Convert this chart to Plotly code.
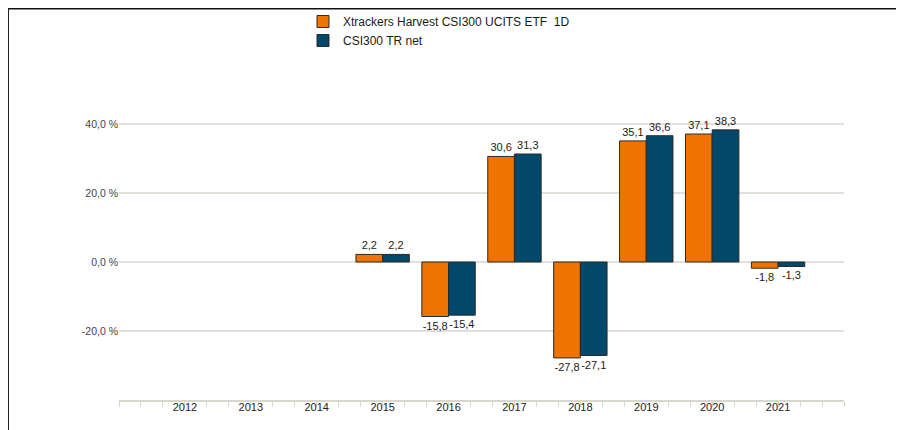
import plotly.graph_objects as go

years = [2012, 2013, 2014, 2015, 2016, 2017, 2018, 2019, 2020, 2021]
etf_values = [None, None, None, 2.2, -15.8, 30.6, -27.8, 35.1, 37.1, -1.8]
index_values = [None, None, None, 2.2, -15.4, 31.3, -27.1, 36.6, 38.3, -1.3]
series_names = ["Xtrackers Harvest CSI300 UCITS ETF  1D", "CSI300 TR net"]
y_tickvals = [-40, -20, 0, 20, 40, 60]
y_ticktext = ["", "-20,0 %", "0,0 %", "20,0 %", "40,0 %", ""]

def fmt(v):
    return "" if v is None else f"{v:.1f}".replace(".", ",")

colors = ["#F07300", "#02486A"]
FONT = "Liberation Sans, Arial, sans-serif"

W, H = 896, 422          # page offset 8px (body margin)
L, R, T, B = 111, 60, 47, 30
PW, PH = W - L - R, H - T - B   # 725 x 345

fig = go.Figure()
for name, vals, col in zip(series_names, [etf_values, index_values], colors):
    fig.add_trace(go.Bar(
        x=years, y=vals, name=name,
        marker=dict(color=col, line=dict(color="#2a2a2a", width=1)),
        text=[fmt(v) for v in vals], textposition="outside",
        textfont=dict(family=FONT, size=11, color="#1a1a1a"),
        cliponaxis=False,
    ))

fig.update_layout(
    width=W, height=H,
    margin=dict(l=L, r=R, t=T, b=B, autoexpand=False),
    paper_bgcolor="white", plot_bgcolor="white",
    barmode="group", bargap=0.19, bargroupgap=0,
    font=dict(family=FONT, size=11, color="#333333"),
    showlegend=True,
    legend=dict(
        xref="paper", yref="paper", x=(295 - L) / PW, y=(PH + T + 1) / PH,
        xanchor="left", yanchor="top", bgcolor="rgba(0,0,0,0)",
        font=dict(family=FONT, size=12, color="#1a1a1a"),
        tracegroupgap=0,
    ),
    uniformtext=dict(minsize=11, mode="show"),
)
fig.update_xaxes(
    range=[2011, 2022], tickvals=years, ticktext=[str(y) for y in years],
    tickangle=0,
    showgrid=False, showline=True, linecolor="#D9D6CC", linewidth=2,
    ticks="outside", ticklen=0, tickcolor="#D9D6CC",
    ticklabelstandoff=-4,
    minor=dict(dtick=1/3, tick0=2011, ticks="outside", ticklen=5, tickcolor="#D9D6CC", tickwidth=1, showgrid=False),
    tickfont=dict(size=11, color="#222222"),
    zeroline=False, fixedrange=True,
)
fig.update_yaxes(
    range=[-40, 60], tickvals=y_tickvals, ticktext=y_ticktext,
    showgrid=True, gridcolor="#E2E0DA", gridwidth=1.5,
    zeroline=False, showline=False, ticks="",
    tickfont=dict(size=10.5, color="#444444"),
)

# outer frame (top and left edges)
def px_x(p):
    return (p - L) / PW

def px_y(p):
    return (PH + T - p) / PH

fig.add_shape(type="line", xref="paper", yref="paper",
              x0=px_x(0), x1=px_x(W), y0=px_y(0.5), y1=px_y(0.5),
              line=dict(color="#111111", width=2))
fig.add_shape(type="line", xref="paper", yref="paper",
              x0=px_x(0), x1=px_x(0), y0=px_y(0), y1=px_y(H),
              line=dict(color="#222222", width=2))

fig.write_html("out.html")
